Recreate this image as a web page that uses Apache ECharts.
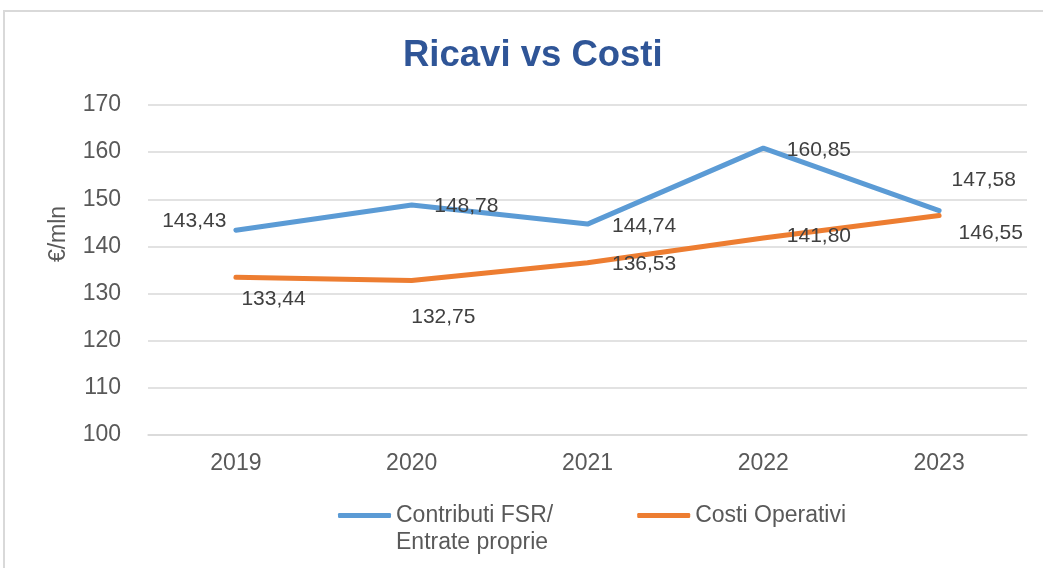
<!DOCTYPE html>
<html>
<head>
<meta charset="utf-8">
<title>Ricavi vs Costi</title>
<script src="https://cdn.jsdelivr.net/npm/echarts@6/dist/echarts.min.js"></script>
<style>
  html, body { margin: 0; padding: 0; background: #fff; }
  .frame {
    position: absolute; left: 3px; top: 10px;
    width: 1100px; height: 600px;
    border: 2px solid #d9d9d9;
  }
  #chart { position: absolute; left: 0; top: 0; width: 1043px; height: 568px; }
</style>
</head>
<body>
<div class="frame"></div>
<div id="chart"></div>
<script>
// Chart data
const years = ['2019', '2020', '2021', '2022', '2023'];
const ricavi = [143.43, 148.78, 144.74, 160.85, 147.58];
const costi = [133.44, 132.75, 136.53, 141.80, 146.55];
const yTicks = { min: 100, max: 170, interval: 10 };

// Label placement per point (like Excel's manual label positions)
const ricaviLabelPos = [
  { position: 'left', offset: [-9, -9] },
  { position: 'right', offset: [22, 1] },
  { position: 'right', offset: [24, 2] },
  { position: 'right', offset: [23, 2] },
  { position: 'right', offset: [12, -30] },
];
const costiLabelPos = [
  { position: 'right', offset: [5, 22] },
  { position: 'right', offset: [-1, 37] },
  { position: 'right', offset: [24, 1] },
  { position: 'right', offset: [23, -2] },
  { position: 'right', offset: [19, 18] },
];

const FONT = '"Liberation Sans", Arial, sans-serif';
const fmt = (v) => v.toFixed(2).replace('.', ',');

const toPoints = (values, labels) =>
  values.map((v, i) => ({
    value: v,
    label: { position: labels[i].position, offset: labels[i].offset },
  }));

const chart = echarts.init(document.getElementById('chart'));

chart.setOption({
  animation: false,
  textStyle: { fontFamily: FONT },
  title: {
    text: 'Ricavi vs Costi',
    left: 398,
    top: 32,
    textStyle: { color: '#2F5597', fontSize: 36.5, fontWeight: 'bold', fontFamily: FONT },
  },
  grid: { left: 148, right: 16, top: 105, bottom: 133 },
  legend: {
    left: 338,
    top: 475,
    padding: 0,
    itemWidth: 53,
    itemHeight: 5,
    itemGap: 84,
    icon: 'roundRect',
    // blank first line keeps the icon level with the first text line (Excel style)
    formatter: (name) => (name.includes('\n') ? '\n' + name : name),
    textStyle: { color: '#595959', fontSize: 23, fontFamily: FONT, lineHeight: 27 },
  },
  xAxis: {
    type: 'category',
    data: years,
    boundaryGap: true,
    axisLine: { lineStyle: { color: '#d9d9d9', width: 1.5 } },
    axisTick: { show: false },
    axisLabel: { color: '#595959', fontSize: 23, margin: 17, fontFamily: FONT },
  },
  yAxis: {
    type: 'value',
    min: yTicks.min,
    max: yTicks.max,
    interval: yTicks.interval,
    name: '€/mln',
    nameLocation: 'middle',
    nameGap: 78,
    nameTextStyle: { color: '#595959', fontSize: 23, fontFamily: FONT, padding: [0, 0, 0, 72] },
    axisLine: { show: false },
    axisTick: { show: false },
    axisLabel: { color: '#595959', fontSize: 23, margin: 27, fontFamily: FONT },
    splitLine: { lineStyle: { color: '#d9d9d9', width: 1.5 } },
  },
  series: [
    {
      name: 'Contributi FSR/\nEntrate proprie',
      type: 'line',
      data: toPoints(ricavi, ricaviLabelPos),
      symbol: 'circle',
      symbolSize: 1,
      showSymbol: true,
      itemStyle: { color: '#5B9BD5' },
      lineStyle: { color: '#5B9BD5', width: 5, cap: 'round', join: 'round' },
      label: {
        show: true,
        distance: 0,
        color: '#404040',
        fontSize: 21,
        fontFamily: FONT,
        formatter: (p) => fmt(p.value),
      },
    },
    {
      name: 'Costi Operativi',
      type: 'line',
      data: toPoints(costi, costiLabelPos),
      symbol: 'circle',
      symbolSize: 1,
      showSymbol: true,
      itemStyle: { color: '#ED7D31' },
      lineStyle: { color: '#ED7D31', width: 5, cap: 'round', join: 'round' },
      label: {
        show: true,
        distance: 0,
        color: '#404040',
        fontSize: 21,
        fontFamily: FONT,
        formatter: (p) => fmt(p.value),
      },
    },
  ],
});
</script>
</body>
</html>
